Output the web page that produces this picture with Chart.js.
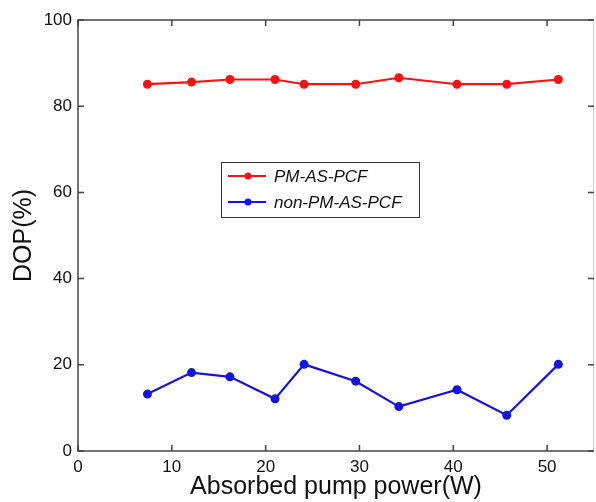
<!DOCTYPE html>
<html>
<head>
<meta charset="utf-8">
<script src="https://cdn.jsdelivr.net/npm/chart.js@4.4.1/dist/chart.umd.min.js"></script>
<style>
    html, body { margin: 0; padding: 0; background: #fff; overflow: hidden; }
    #wrap { width: 596px; height: 502px; position: relative; }
</style>
</head>
<body>
<div id="wrap"><canvas id="dopChart"></canvas></div>
<script>
// Data
const pumpPower = [7.4, 12.1, 16.2, 21.0, 24.1, 29.6, 34.2, 40.4, 45.7, 51.2];
const dopPM = [85.1, 85.6, 86.2, 86.2, 85.1, 85.1, 86.6, 85.1, 85.1, 86.2];
const dopNonPM = [13.2, 18.2, 17.2, 12.1, 20.1, 16.2, 10.3, 14.2, 8.3, 20.1];
const seriesLabels = ['PM-AS-PCF', 'non-PM-AS-PCF'];
const xTicks = [0, 10, 20, 30, 40, 50];
const yTicks = [0, 20, 40, 60, 80, 100];

const FONT = "'Liberation Sans', Arial, sans-serif";
const AXIS_COLOR = '#444';

function toPoints(xs, ys) {
    return xs.map((x, i) => ({ x: x, y: ys[i] }));
}

// Frame, inward ticks and the boxed legend, drawn after the datasets
const framePlugin = {
    id: 'frame',
    afterDraw(chart) {
        const ctx = chart.ctx;
        const area = chart.chartArea;
        const xs = chart.scales.x;
        const ys = chart.scales.y;
        const tick = 6;

        ctx.save();
        ctx.lineWidth = 1.5;
        // left, top, bottom in dark grey; right edge is faint in the original
        ctx.strokeStyle = AXIS_COLOR;
        ctx.beginPath();
        ctx.moveTo(area.right, area.top);
        ctx.lineTo(area.left, area.top);
        ctx.lineTo(area.left, area.bottom);
        ctx.lineTo(area.right, area.bottom);
        ctx.stroke();
        ctx.strokeStyle = '#cfcfcf';
        ctx.lineWidth = 1;
        ctx.beginPath();
        ctx.moveTo(area.right - 0.5, area.top);
        ctx.lineTo(area.right - 0.5, area.bottom);
        ctx.stroke();

        ctx.strokeStyle = AXIS_COLOR;
        ctx.lineWidth = 1.5;
        ctx.beginPath();
        xTicks.forEach(v => {
            const px = xs.getPixelForValue(v);
            ctx.moveTo(px, area.bottom); ctx.lineTo(px, area.bottom - tick);
            ctx.moveTo(px, area.top); ctx.lineTo(px, area.top + tick);
        });
        yTicks.forEach(v => {
            const py = ys.getPixelForValue(v);
            ctx.moveTo(area.left, py); ctx.lineTo(area.left + tick, py);
            ctx.moveTo(area.right, py); ctx.lineTo(area.right - tick, py);
        });
        ctx.stroke();

        // Legend box
        const box = { left: 221, top: 162, width: 198, height: 55 };
        ctx.fillStyle = '#fff';
        ctx.fillRect(box.left, box.top, box.width, box.height);
        ctx.lineWidth = 1;
        ctx.strokeStyle = '#333';
        ctx.strokeRect(box.left + 0.5, box.top + 0.5, box.width, box.height);

        ctx.font = 'italic 17px ' + FONT;
        ctx.textBaseline = 'middle';
        chart.data.datasets.forEach((ds, i) => {
            const y = box.top + 14 + i * 26;
            ctx.strokeStyle = ds.borderColor;
            ctx.lineWidth = 2;
            ctx.beginPath();
            ctx.moveTo(box.left + 7, y);
            ctx.lineTo(box.left + 45, y);
            ctx.stroke();
            ctx.fillStyle = ds.borderColor;
            ctx.beginPath();
            ctx.arc(box.left + 27, y, 3.5, 0, Math.PI * 2);
            ctx.fill();
            ctx.fillStyle = '#111';
            ctx.fillText(ds.label, box.left + 53, y + 1);
        });
        ctx.restore();
    }
};

function initializeDopChart() {
    const canvas = document.getElementById('dopChart');
    if (!canvas) {
        console.error('Chart canvas not found');
        return;
    }

    new Chart(canvas.getContext('2d'), {
        type: 'line',
        data: {
            datasets: [{
                label: seriesLabels[0],
                data: toPoints(pumpPower, dopPM),
                borderColor: '#ff1010',
                backgroundColor: '#ff1010',
                borderWidth: 2.2,
                pointRadius: 4.5,
                pointBorderWidth: 0,
                tension: 0
            }, {
                label: seriesLabels[1],
                data: toPoints(pumpPower, dopNonPM),
                borderColor: '#1414e0',
                backgroundColor: '#1414e0',
                borderWidth: 2.2,
                pointRadius: 4.5,
                pointBorderWidth: 0,
                tension: 0
            }]
        },
        options: {
            responsive: true,
            maintainAspectRatio: false,
            animation: false,
            layout: { autoPadding: false, padding: { left: 0, top: 20, right: 2, bottom: 0 } },
            plugins: {
                legend: { display: false },
                tooltip: { enabled: false }
            },
            scales: {
                x: {
                    type: 'linear',
                    min: 0,
                    max: 55,
                    afterFit(scale) { scale.height = 51; scale.paddingRight = 0; },
                    afterBuildTicks(scale) { scale.ticks = xTicks.map(v => ({ value: v })); },
                    grid: { display: false, drawTicks: false },
                    border: { display: false },
                    ticks: {
                        padding: 6,
                        color: '#111',
                        font: { family: FONT, size: 17 }
                    },
                    title: {
                        display: true,
                        text: 'Absorbed pump power(W)',
                        color: '#111',
                        font: { family: FONT, size: 25 },
                        padding: { top: 0, bottom: 0 }
                    }
                },
                y: {
                    min: 0,
                    max: 100,
                    afterFit(scale) { scale.width = 78; },
                    afterBuildTicks(scale) { scale.ticks = yTicks.map(v => ({ value: v })); },
                    grid: { display: false, drawTicks: false },
                    border: { display: false },
                    ticks: {
                        padding: 6,
                        color: '#111',
                        font: { family: FONT, size: 17 }
                    },
                    title: {
                        display: true,
                        text: 'DOP(%)',
                        color: '#111',
                        font: { family: FONT, size: 25 },
                        padding: { top: 9, bottom: 0 }
                    }
                }
            }
        },
        plugins: [framePlugin]
    });
}

initializeDopChart();
</script>
</body>
</html>
